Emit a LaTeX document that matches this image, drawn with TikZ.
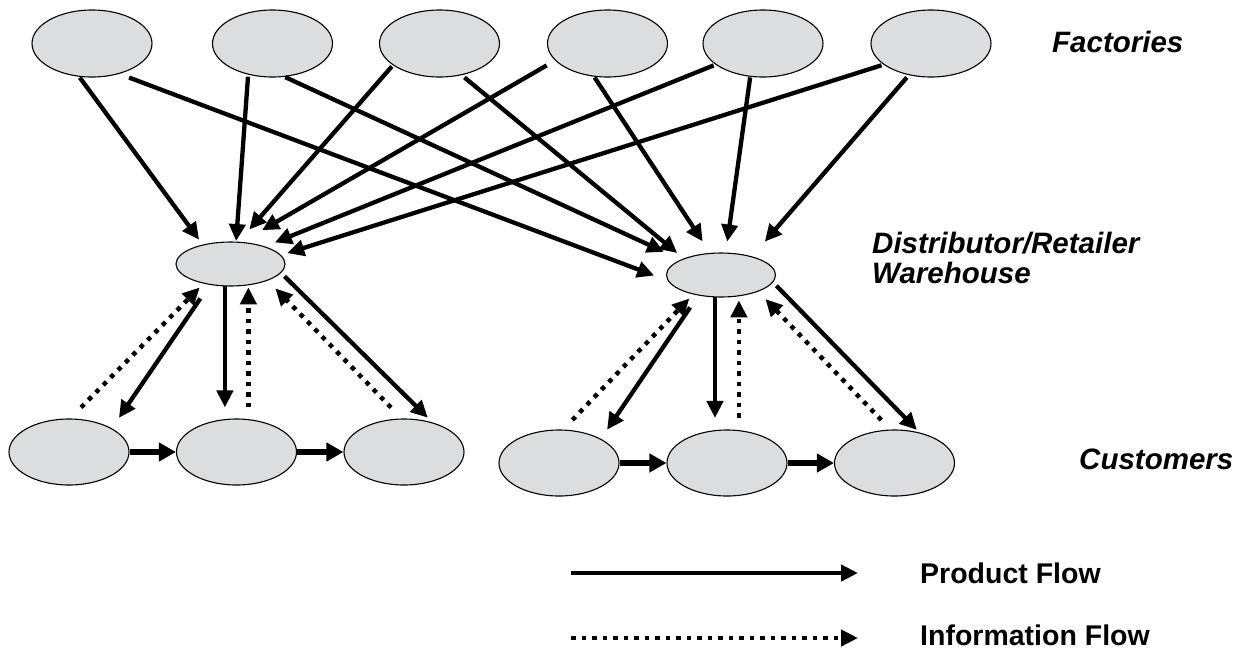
\documentclass[tikz,border=0pt]{standalone}
\usepackage{fontspec}
\setmainfont{Liberation Sans}
\usetikzlibrary{arrows.meta,shapes.geometric}
\definecolor{nodefill}{RGB}{220,221,223}
\begin{document}
\begin{tikzpicture}[x=1pt,y=-1pt,
  site/.style={ellipse, draw=black, line width=1.1pt, fill=nodefill, inner sep=0pt},
  factory/.style={site, minimum width=120pt, minimum height=67pt},
  depot/.style={site, minimum width=109pt, minimum height=44pt},
  customer/.style={site, minimum width=120pt, minimum height=66pt},
  product/.style={line width=4.3pt, -{Triangle[length=17pt,width=16pt]}},
  info/.style={line width=4.5pt, dash pattern=on 4.5pt off 6pt, -{Triangle[length=17pt,width=16pt]}},
  chain/.style={line width=6pt, -{Triangle[length=17pt,width=18pt]}},
  tier/.style={font=\fontsize{29.5}{31}\selectfont\bfseries\itshape, anchor=base west, inner sep=0pt},
  keytext/.style={font=\fontsize{28.5}{30}\selectfont\bfseries, anchor=base west, inner sep=0pt},
]
\useasboundingbox (0,0) rectangle (1237,649);

% factories
\node[factory] (f1) at (92,43.5) {};
\node[factory] (f2) at (272.5,43.5) {};
\node[factory] (f3) at (439.5,43.5) {};
\node[factory] (f4) at (607.5,43.5) {};
\node[factory] (f5) at (763,43.5) {};
\node[factory] (f6) at (931,43.5) {};

% distributor / retailer warehouses
\node[depot] (d1) at (230.5,264) {};
\node[depot] (d2) at (721,275) {};

% customers
\node[customer] (c1) at (69,452) {};
\node[customer] (c2) at (236.5,452) {};
\node[customer] (c3) at (404,452) {};
\node[customer] (c4) at (559,463) {};
\node[customer] (c5) at (727,463) {};
\node[customer] (c6) at (894.5,463) {};

% tier labels
\node[tier] (tf) at (1052,52) {Factories};
\node[tier] (tw1) at (872,253) {Distributor/Retailer};
\node[tier] (tw2) at (872,283) {Warehouse};
\node[tier] (tc) at (1079,469) {Customers};

% factories to warehouses
\draw[product, shorten <=1pt, shorten >=6.1pt] (f1.249) -- (d1.145);
\draw[product, shorten <=10.4pt, shorten >=14.4pt] (f1.312) -- (d2.186);
\draw[product, shorten <=2pt, shorten >=0.5pt] (f2.232) -- (d1.76);
\draw[product, shorten <=0.7pt, shorten >=18.5pt] (f2.290) -- (d2.159);
\draw[product, shorten <=1.6pt, shorten >=16.2pt] (f3.205) -- (d1.70);
\draw[product, shorten <=3.6pt, shorten >=8.4pt] (f3.305) -- (d2.156);
\draw[product, shorten <=9.7pt, shorten >=23.4pt] (f4.198) -- (d1.63);
\draw[product, shorten <=1pt, shorten >=13.7pt] (f4.248) -- (d2.116);
\draw[product, shorten <=2pt, shorten >=10.6pt] (f5.204) -- (d1.27);
\draw[product, shorten <=0.6pt, shorten >=11.1pt] (f5.249) -- (d2.78);
\draw[product, shorten <=2.1pt, shorten >=6.5pt] (f6.204) -- (d1.10);
\draw[product, shorten <=3pt, shorten >=19.5pt] (f6.235) -- (d2.31);

% left warehouse and its customers
\draw[product, shorten <=16.5pt, shorten >=12.6pt] (d1.225) -- (c1.29);
\draw[info, shorten <=15.5pt, shorten >=5.4pt] (c1.88) -- (d1.216);
\draw[product, shorten >=11pt] (d1.256) -- (d1.256 |- c2.north);
\draw[info, shorten <=11pt, shorten >=2pt] (d1.310 |- c2.north) -- (d1.310);
\draw[info, shorten <=15.3pt, shorten >=10.9pt] (c3.94) -- (d1.336);
\draw[product, shorten <=4.8pt, shorten >=6.7pt] (d1.350) -- (c3.46);
\draw[chain] (c1.east) -- (c2.west);
\draw[chain] (c2.east) -- (c3.west);

% right warehouse and its customers
\draw[product, shorten <=14.4pt, shorten >=10.9pt] (d2.222) -- (c4.30);
\draw[info, shorten <=13.3pt, shorten >=5.5pt] (c4.83) -- (d2.215);
\draw[product, shorten >=11.5pt] (d2.255) -- (d2.255 |- c5.north);
\draw[info, shorten <=11.5pt, shorten >=4pt] (d2.310 |- c5.north) -- (d2.310);
\draw[info, shorten <=13.2pt, shorten >=10.3pt] (c6.97) -- (d2.336);
\draw[product, shorten <=4.8pt, shorten >=3.5pt] (d2.352) -- (c6.51);
\draw[chain] (c4.east) -- (c5.west);
\draw[chain] (c5.east) -- (c6.west);

% legend
\coordinate (pf0) at (571,573);
\coordinate (pf1) at (858,573);
\coordinate (if0) at (571,638);
\coordinate (if1) at (858,638);
\draw[product] (pf0) -- (pf1);
\draw[info] (if0) -- (if1);
\node[keytext] (kp) at (920,583) {Product Flow};
\node[keytext] (ki) at (920,645) {Information Flow};
\end{tikzpicture}
\end{document}
